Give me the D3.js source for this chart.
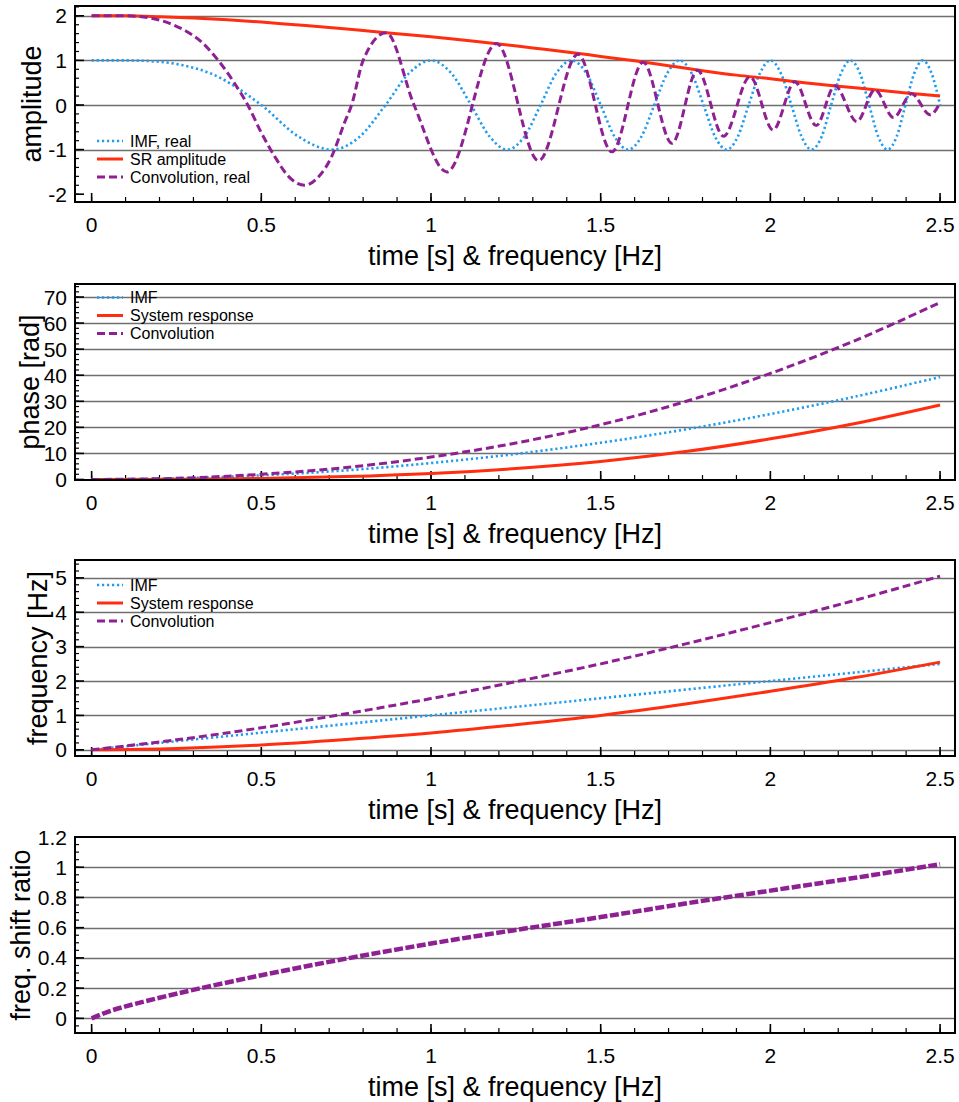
<!DOCTYPE html>
<html>
<head>
<meta charset="utf-8">
<script src="https://cdn.jsdelivr.net/npm/d3@7"></script>
<style>
  body { margin: 0; background: #fff; }
  text { font-family: "Liberation Sans", Arial, Helvetica, sans-serif; fill: #000; }
</style>
</head>
<body>
<div id="chart"></div>
<script>
// Values.

// panel 1: amplitude
var srAmpT = [0, 0.1, 0.2, 0.3, 0.4, 0.5, 0.6, 0.7, 0.8, 0.9, 1.0, 1.1, 1.2, 1.3, 1.4, 1.5, 1.6, 1.7, 1.8, 1.9, 2.0, 2.1, 2.2, 2.3, 2.4, 2.5];
var srAmp  = [2.0, 2.0, 1.98, 1.95, 1.91, 1.86, 1.8, 1.74, 1.67, 1.6, 1.53, 1.45, 1.37, 1.28, 1.19, 1.09, 0.99, 0.88, 0.77, 0.67, 0.59, 0.5, 0.42, 0.35, 0.27, 0.2];

var imfRealT = [0, 0.1, 0.2, 0.27, 0.35, 0.5, 0.61, 0.707, 0.79, 0.866, 0.935, 1.0, 1.06, 1.118, 1.173,
                1.225, 1.275, 1.323, 1.369, 1.414, 1.458, 1.5, 1.541, 1.581, 1.62, 1.658, 1.696, 1.732, 1.768, 1.803,
                1.837, 1.871, 1.904, 1.936, 1.969, 2.0, 2.031, 2.062, 2.092, 2.121, 2.151, 2.179, 2.208, 2.236, 2.264,
                2.291, 2.318, 2.345, 2.372, 2.398, 2.424, 2.449, 2.475, 2.5];
var imfReal  = [1, 1, 0.97, 0.89, 0.71, 0, -0.71, -1, -0.71, 0, 0.71, 1, 0.71, 0, -0.71,
                -1, -0.71, 0, 0.71, 1, 0.71, 0, -0.71, -1, -0.71, 0, 0.71, 1, 0.71, 0,
                -0.71, -1, -0.71, 0, 0.71, 1, 0.71, 0, -0.71, -1, -0.71, 0, 0.71, 1, 0.71,
                0, -0.71, -1, -0.71, 0, 0.71, 1, 0.71, 0];

var convRealT = [0, 0.1, 0.18, 0.23, 0.28, 0.32, 0.37, 0.42, 0.46, 0.5, 0.54, 0.58, 0.628, 0.67, 0.707,
                 0.745, 0.766, 0.8, 0.868, 0.95, 1.047, 1.193, 1.317, 1.433, 1.533, 1.625, 1.71, 1.785, 1.862, 1.94,
                 2.008, 2.072, 2.135, 2.19, 2.255, 2.308, 2.363, 2.416, 2.471, 2.5];
var convReal  = [2, 2, 1.94, 1.83, 1.65, 1.44, 1.03, 0.5, 0, -0.62, -1.16, -1.6, -1.8, -1.6, -1.16,
                 -0.4, 0, 1.0, 1.62, 0, -1.5, 1.38, -1.25, 1.14, -1.05, 0.96, -0.86, 0.78, -0.7, 0.635,
                 -0.56, 0.52, -0.46, 0.43, -0.37, 0.34, -0.28, 0.25, -0.22, 0.05];

// panels 2 and 3 share this time grid
var tGrid = [0, 0.25, 0.5, 0.75, 1, 1.25, 1.5, 1.75, 2, 2.25, 2.5];
var imfPhase  = [0, 0.4, 1.6, 3.5, 6.3, 9.8, 14.1, 19.2, 25.1, 31.8, 39.3];
var srPhase   = [0, 0.05, 0.4, 1.1, 2.3, 4.2, 6.9, 10.7, 15.6, 21.5, 28.6];
var convPhase = [0, 0.45, 2.0, 4.6, 8.6, 14.0, 21.0, 29.9, 40.7, 53.3, 67.9];

var imfFreq  = [0, 0.25, 0.5, 0.75, 1.0, 1.25, 1.5, 1.75, 2.0, 2.25, 2.5];
var srFreq   = [0, 0.04, 0.14, 0.3, 0.49, 0.73, 1.0, 1.33, 1.7, 2.1, 2.55];
var convFreq = [0, 0.29, 0.64, 1.05, 1.49, 1.98, 2.5, 3.08, 3.7, 4.35, 5.05];

// panel 4
var ratioT     = [0, 0.05, 0.1, 0.25, 0.5, 0.75, 1, 1.25, 1.5, 1.75, 2, 2.25, 2.5];
var shiftRatio = [0, 0.045, 0.079, 0.163, 0.285, 0.395, 0.495, 0.585, 0.67, 0.76, 0.845, 0.93, 1.02];

// axis labels / ticks
var xTicks = [0, 0.5, 1, 1.5, 2, 2.5];
var xTitle = 'time [s] & frequency [Hz]';
var ampTicks   = [-2, -1, 0, 1, 2];
var phaseTicks = [0, 10, 20, 30, 40, 50, 60, 70];
var freqTicks  = [0, 1, 2, 3, 4, 5];
var ratioTicks = [0, 0.2, 0.4, 0.6, 0.8, 1, 1.2];

function zip(a, b) { return a.map(function(v, i) { return [v, b[i]]; }); }

var styles = {
  imf:  { color: '#1e9cf2', width: 2.6, dash: '2.2,2.8' },
  sr:   { color: '#ff2e10', width: 3,   dash: null },
  conv: { color: '#8f2093', width: 3,   dash: '8,4' },
  ratio:{ color: '#8f2093', width: 4.5, dash: '9,2.5' }
};

// oscillating panel goes through its extrema with flat tops, the rest is plain smooth
var panels = [
  { top: 6,   yDomain: [-2.175, 2.22], ticks: ampTicks, grid: [-1, 0, 1, 2], minor: 0.2,
    title: 'amplitude', titleX: 41, curve: d3.curveMonotoneX,
    series: [ { s: 'imf', d: zip(imfRealT, imfReal) }, { s: 'sr', d: zip(srAmpT, srAmp) }, { s: 'conv', d: zip(convRealT, convReal) } ],
    legend: { y: 141, names: ['IMF, real', 'SR amplitude', 'Convolution, real'] } },
  { top: 284, yDomain: [-0.2, 75], ticks: phaseTicks, grid: [10, 20, 30, 40, 50, 60, 70], minor: 2,
    title: 'phase [rad]', titleX: 39, curve: d3.curveCatmullRom,
    series: [ { s: 'imf', d: zip(tGrid, imfPhase) }, { s: 'sr', d: zip(tGrid, srPhase) }, { s: 'conv', d: zip(tGrid, convPhase) } ],
    legend: { y: 297.5, names: ['IMF', 'System response', 'Convolution'] } },
  { top: 560, yDomain: [-0.18, 5.52], ticks: freqTicks, grid: [0, 1, 2, 3, 4, 5], minor: 0.2,
    title: 'frequency [Hz]', titleX: 47, curve: d3.curveCatmullRom,
    series: [ { s: 'imf', d: zip(tGrid, imfFreq) }, { s: 'sr', d: zip(tGrid, srFreq) }, { s: 'conv', d: zip(tGrid, convFreq) } ],
    legend: { y: 585, names: ['IMF', 'System response', 'Convolution'] } },
  { top: 837, yDomain: [-0.097, 1.2], ticks: ratioTicks, grid: [0, 0.2, 0.4, 0.6, 0.8, 1], minor: 0.05,
    title: 'freq. shift ratio', titleX: 30, curve: d3.curveCatmullRom,
    series: [ { s: 'ratio', d: zip(ratioT, shiftRatio) } ],
    legend: null }
];

var width = 959, height = 1102;
var left = 75, right = 955, panelH = 196;

var svg = d3.select('#chart').append('svg')
    .attr('width', width)
    .attr('height', height);

var x = d3.scaleLinear().domain([-0.049, 2.544]).range([left, right]);

panels.forEach(function(p, pi) {
  var bottom = p.top + panelH;
  var y = d3.scaleLinear().domain(p.yDomain).range([bottom, p.top]);
  var g = svg.append('g');

  // grid lines
  g.selectAll('.grid').data(p.grid).enter()
    .append('line')
      .attr('x1', left).attr('x2', right)
      .attr('y1', function(d) { return Math.round(y(d)) + 0.5; })
      .attr('y2', function(d) { return Math.round(y(d)) + 0.5; })
      .attr('stroke', '#6f6f6f')
      .attr('stroke-width', 1.3);

  // y ticks, minor then major
  var yMinor = d3.range(Math.ceil(p.yDomain[0] / p.minor), Math.floor(p.yDomain[1] / p.minor) + 1)
      .map(function(k) { return k * p.minor; });
  g.selectAll('.ymin').data(yMinor).enter()
    .append('line')
      .attr('x1', left).attr('x2', left + 4)
      .attr('y1', function(d) { return y(d); })
      .attr('y2', function(d) { return y(d); })
      .attr('stroke', '#000').attr('stroke-width', 1.2);
  g.selectAll('.ymaj').data(p.ticks).enter()
    .append('line')
      .attr('x1', left).attr('x2', left + 9)
      .attr('y1', function(d) { return y(d); })
      .attr('y2', function(d) { return y(d); })
      .attr('stroke', '#000').attr('stroke-width', 1.6);
  g.selectAll('.ylab').data(p.ticks).enter()
    .append('text')
      .attr('x', 67)
      .attr('y', function(d) { return y(d); })
      .attr('dy', '0.36em')
      .attr('text-anchor', 'end')
      .style('font-size', '21px')
      .text(function(d) { return String(d); });

  // x ticks from the bottom edge upwards
  var xMinor = d3.range(0, 26).map(function(k) { return k / 10; });
  g.selectAll('.xmin').data(xMinor).enter()
    .append('line')
      .attr('x1', function(d) { return x(d); })
      .attr('x2', function(d) { return x(d); })
      .attr('y1', bottom).attr('y2', bottom - 5)
      .attr('stroke', '#000').attr('stroke-width', 1.2);
  g.selectAll('.xmaj').data(xTicks).enter()
    .append('line')
      .attr('x1', function(d) { return x(d); })
      .attr('x2', function(d) { return x(d); })
      .attr('y1', bottom).attr('y2', bottom - 9)
      .attr('stroke', '#000').attr('stroke-width', 1.6);
  g.selectAll('.xlab').data(xTicks).enter()
    .append('text')
      .attr('x', function(d) { return x(d); })
      .attr('y', bottom + 30)
      .attr('text-anchor', 'middle')
      .style('font-size', '21px')
      .text(function(d) { return String(d); });

  // axis titles
  g.append('text')
      .attr('x', (left + right) / 2)
      .attr('y', bottom + 63)
      .attr('text-anchor', 'middle')
      .style('font-size', '27px')
      .text(xTitle);
  g.append('text')
      .attr('transform', 'translate(' + p.titleX + ',' + (p.top + panelH / 2) + ') rotate(-90)')
      .attr('text-anchor', 'middle')
      .style('font-size', '27px')
      .text(p.title);

  // curves, clipped to the frame
  svg.append('clipPath').attr('id', 'clip' + pi)
    .append('rect')
      .attr('x', left).attr('y', p.top)
      .attr('width', right - left).attr('height', panelH);

  var line = d3.line()
      .x(function(d) { return x(d[0]); })
      .y(function(d) { return y(d[1]); })
      .curve(p.curve);

  g.append('g').attr('clip-path', 'url(#clip' + pi + ')')
    .selectAll('path').data(p.series).enter()
    .append('path')
      .attr('d', function(d) { return line(d.d); })
      .attr('fill', 'none')
      .attr('stroke', function(d) { return styles[d.s].color; })
      .attr('stroke-width', function(d) { return styles[d.s].width; })
      .attr('stroke-dasharray', function(d) { return styles[d.s].dash; });

  // legend
  if (p.legend) {
    var keys = ['imf', 'sr', 'conv'];
    var lg = g.selectAll('.leg').data(p.legend.names).enter()
      .append('g')
        .attr('transform', function(d, i) { return 'translate(0,' + (p.legend.y + i * 18) + ')'; });
    lg.append('line')
        .attr('x1', 97).attr('x2', 123)
        .attr('y1', 0).attr('y2', 0)
        .attr('stroke', function(d, i) { return styles[keys[i]].color; })
        .attr('stroke-width', function(d, i) { return styles[keys[i]].width; })
        .attr('stroke-dasharray', function(d, i) { return styles[keys[i]].dash; });
    lg.append('text')
        .attr('x', 130).attr('y', 0).attr('dy', '0.36em')
        .style('font-size', '16px')
        .text(function(d) { return d; });
  }

  // frame
  g.append('rect')
      .attr('x', left).attr('y', p.top)
      .attr('width', right - left).attr('height', panelH)
      .attr('fill', 'none')
      .attr('stroke', '#000')
      .attr('stroke-width', 2);
});
</script>
</body>
</html>
